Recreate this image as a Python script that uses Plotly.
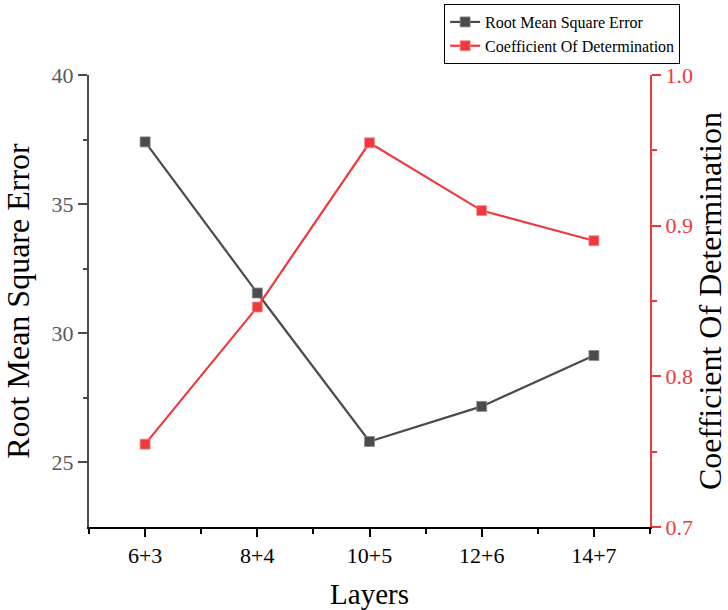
import plotly.graph_objects as go

# Layer configurations and the two metrics measured for each
layers = ["6+3", "8+4", "10+5", "12+6", "14+7"]
rmse = [37.41, 31.56, 25.81, 27.17, 29.14]
r2 = [0.755, 0.846, 0.955, 0.910, 0.890]

left_ticks = [25, 30, 35, 40]
right_ticks = [0.7, 0.8, 0.9, 1.0]

GRAY = "#4b4b4b"
RED = "#f0393c"
FONT = "Liberation Serif"

xpos = list(range(len(layers)))

fig = go.Figure()
fig.add_trace(go.Scatter(
    x=xpos, y=rmse, name="Root Mean Square Error",
    mode="lines+markers",
    line=dict(color=GRAY, width=2.2),
    marker=dict(symbol="square", size=10, color=GRAY,
                line=dict(color="#8a8a8a", width=0.8)),
    yaxis="y",
))
fig.add_trace(go.Scatter(
    x=xpos, y=r2, name="Coefficient Of Determination",
    mode="lines+markers",
    line=dict(color=RED, width=2.2),
    marker=dict(symbol="square", size=10, color=RED,
                line=dict(color="#f58a8c", width=0.8)),
    yaxis="y2",
))

fig.update_layout(
    width=728, height=610,
    margin=dict(l=89, r=78, t=75, b=83, autoexpand=False),
    paper_bgcolor="white", plot_bgcolor="white",
    font=dict(family=FONT, color="black"),
    showlegend=True,
    legend=dict(
        x=0.633, y=1.157, xanchor="left", yanchor="top",
        bordercolor="black", borderwidth=1, bgcolor="white",
        font=dict(family=FONT, size=16, color="black"),
        tracegroupgap=0, itemwidth=30,
    ),
    xaxis=dict(
        range=[-0.5, 4.5], automargin=False,
        tickvals=xpos, ticktext=layers,
        showgrid=False, zeroline=False,
        showline=True, linecolor="black", linewidth=2,
        ticks="outside", ticklen=8, tickwidth=1.5, tickcolor="black",
        tickfont=dict(family=FONT, size=22, color="black"),
        minor=dict(tickvals=[-0.5, 0.5, 1.5, 2.5, 3.5, 4.5],
                   ticks="outside", ticklen=5, tickwidth=1.5, tickcolor="black"),
        title=dict(text="Layers", font=dict(family=FONT, size=29, color="black"),
                   standoff=25),
    ),
    yaxis=dict(
        range=[22.5, 40], automargin=False,
        tickvals=left_ticks,
        showgrid=False, zeroline=False,
        showline=True, linecolor=GRAY, linewidth=2,
        ticks="outside", ticklen=9, tickwidth=1.5, tickcolor=GRAY,
        tickfont=dict(family=FONT, size=22, color="#5a5a5a"),
        minor=dict(tickvals=[27.5, 32.5, 37.5],
                   ticks="outside", ticklen=4, tickwidth=1.5, tickcolor=GRAY),
        title=dict(text="Root Mean Square Error",
                   font=dict(family=FONT, size=32, color="black"), standoff=12),
    ),
    yaxis2=dict(
        range=[0.7, 1.0], automargin=False,
        tickvals=right_ticks, ticktext=["0.7", "0.8", "0.9", "1.0"],
        overlaying="y", side="right",
        showgrid=False, zeroline=False,
        showline=True, linecolor=RED, linewidth=2,
        ticks="outside", ticklen=9, tickwidth=1.5, tickcolor=RED,
        tickfont=dict(family=FONT, size=22, color=RED),
        minor=dict(tickvals=[0.75, 0.85, 0.95],
                   ticks="outside", ticklen=5, tickwidth=1.5, tickcolor=RED),
        title=dict(text="Coefficient Of Determination",
                   font=dict(family=FONT, size=32, color="black"), standoff=14),
    ),
)

fig.write_html("out.html")
